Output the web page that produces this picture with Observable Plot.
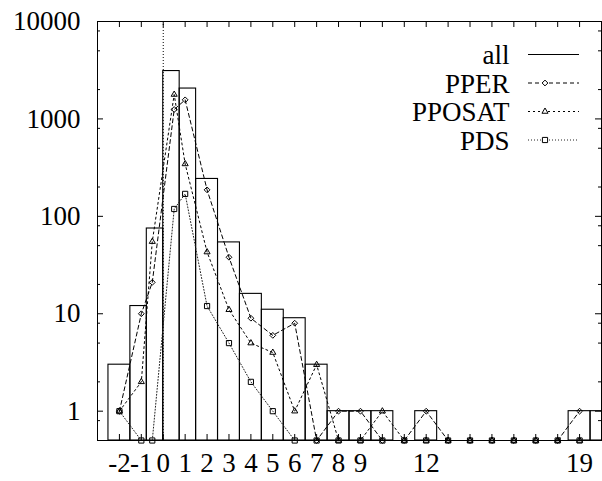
<!DOCTYPE html>
<html><head><meta charset="utf-8">
<script src="https://cdn.jsdelivr.net/npm/d3@7"></script>
<script src="https://cdn.jsdelivr.net/npm/@observablehq/plot@0.6"></script>
<style>body{margin:0;background:#fff} svg{display:block} svg text{font-family:"Liberation Serif","Times New Roman",Tinos,serif !important;}</style>
</head><body><div id="chart"></div>
<script>
// ---- data ----
const xValues      = [-2,-1,-0.5,0.5,1,2,3,4,5,6,7,8,9,10,11,12,13,14,15,16,17,18,19,20];
const allCounts    = [3,12,75,3100,2050,242,54,16,11,9,3,1,1,1,0,1,0,0,0,0,0,0,1,1];
const pperCounts   = [1,10,21,1250,1570,187,38,9,6,8,0,1,1,0,0,1,0,0,0,0,0,0,1];
const pposatCounts = [1,2,55,1780,345,43,11,5,4,1,3,0,0,1,0,0,0,0,0,0,0,0,0];
const pdsCounts    = [1,0,0,119,170,12,5,2,1,0,0,0,0,0,0,0,0,0,0,0,0,0,0];
const seriesNames  = ["all","PPER","PPOSAT","PDS"];
const xTickLabels  = [-2,-1,0,1,2,3,4,5,6,7,8,9,12,19];
const xTickMarks   = [-2,-1,0,1,2,3,4,5,6,7,8,9,10,11,12,13,14,15,16,17,18,19];
const yTickLabels  = [1,10,100,1000,10000];
const yMinorTicks  = [0.8,2,5,8,20,50,80,200,500,800,2000,5000,8000];
const xDomain = [-3, 20];
const yDomain = [0.5, 10000];

// ---- layout ----
const W = 602, H = 481;
const mL = 97, mR = 1, mT = 21, mB = 41;
const frameW = W - mL - mR, frameH = H - mT - mB;
const font = '"Liberation Serif","Times New Roman",Tinos,serif';

// boxes (gnuplot "boxes": each box reaches halfway to its neighbours)
const boxes = xValues.map((x, i) => {
  const prev = i > 0 ? xValues[i-1] : x - (xValues[i+1] - x);
  const next = i < xValues.length - 1 ? xValues[i+1] : x + (x - xValues[i-1]);
  return {x1: (prev + x) / 2, x2: (x + next) / 2, count: allCounts[i]};
}).filter(d => d.count > 0);

const toSeries = arr => arr.map((v, i) => ({x: xValues[i], y: v > 0 ? v : yDomain[0]}));
const pper = toSeries(pperCounts), pposat = toSeries(pposatCounts), pds = toSeries(pdsCounts);

const styles = {
  PPER:   {dash: "4,3", symbol: "diamond2", r: 2.6},
  PPOSAT: {dash: "2,3", symbol: "triangle2", r: 2.9},
  PDS:    {dash: "1,2", symbol: "square2", r: 3.3}
};

const plot = Plot.plot({
  width: W, height: H,
  marginLeft: mL, marginRight: mR, marginTop: mT, marginBottom: mB,
  style: {fontFamily: font, fontSize: "27px", color: "black", background: "white"},
  x: {domain: xDomain, label: null},
  y: {type: "log", domain: yDomain, label: null},
  marks: [
    Plot.ruleX([0], {stroke: "black", strokeDasharray: "1,2", strokeWidth: 1}),
    Plot.rect(boxes, {x1: "x1", x2: "x2", y1: () => yDomain[0], y2: "count", stroke: "black", fill: "none", strokeWidth: 1.1, clip: true}),
    Plot.line(pper,   {x: "x", y: "y", stroke: "black", strokeWidth: 1, strokeDasharray: styles.PPER.dash}),
    Plot.line(pposat, {x: "x", y: "y", stroke: "black", strokeWidth: 1, strokeDasharray: styles.PPOSAT.dash}),
    Plot.line(pds,    {x: "x", y: "y", stroke: "#222", strokeWidth: 1, strokeDasharray: styles.PDS.dash}),
    Plot.dot(pper,   {x: "x", y: "y", symbol: styles.PPER.symbol, r: styles.PPER.r, stroke: "black", fill: "none", strokeWidth: 1}),
    Plot.dot(pposat, {x: "x", y: "y", symbol: styles.PPOSAT.symbol, r: styles.PPOSAT.r, stroke: "black", fill: "none", strokeWidth: 1}),
    Plot.dot(pds,    {x: "x", y: "y", symbol: styles.PDS.symbol, r: styles.PDS.r, stroke: "black", fill: "none", strokeWidth: 1}),
    // inward ticks on all four sides
    Plot.tickY(yTickLabels, {y: d => d, insetRight: frameW - 6, stroke: "black"}),
    Plot.tickY(yTickLabels, {y: d => d, insetLeft: frameW - 6, stroke: "black"}),
    Plot.tickY(yMinorTicks, {y: d => d, insetRight: frameW - 3, stroke: "black"}),
    Plot.tickY(yMinorTicks, {y: d => d, insetLeft: frameW - 3, stroke: "black"}),
    Plot.tickX(xTickMarks, {x: d => d, insetBottom: frameH - 6, stroke: "black"}),
    Plot.tickX(xTickMarks, {x: d => d, insetTop: frameH - 6, stroke: "black"}),
    Plot.frame({stroke: "black", strokeWidth: 1}),
    Plot.axisY(yTickLabels, {tickSize: 0, tickPadding: 17, tickFormat: d => String(d), label: null}),
    Plot.axisX(xTickLabels, {tickSize: 0, tickPadding: 12, tickFormat: d => String(d), label: null})
  ]
});
document.getElementById("chart").appendChild(plot);

// ---- legend (top right, gnuplot style) ----
const svg = d3.select(plot);
const lg = svg.append("g").style("font-family", font).style("font-size", "27px");
const legendTextRight = 509.5, sampleX1 = 528, sampleX2 = 579, sampleMark = 545;
const legendTop = 54.5, legendStep = 28.5;
const symbolMap = {diamond2: d3.symbolDiamond2, triangle2: d3.symbolTriangle2, square2: d3.symbolSquare2};
seriesNames.forEach((name, i) => {
  const cy = legendTop + i * legendStep;
  lg.append("text").attr("x", legendTextRight).attr("y", cy + 9.5)
    .attr("text-anchor", "end").attr("fill", "black").text(name);
  const st = styles[name];
  lg.append("line").attr("x1", sampleX1).attr("x2", sampleX2).attr("y1", cy).attr("y2", cy)
    .attr("stroke", name === "PDS" ? "#222" : "black").attr("stroke-width", st ? 1 : 1.1)
    .attr("stroke-dasharray", st ? st.dash : null);
  if (st) {
    lg.append("path").attr("transform", `translate(${sampleMark},${cy})`)
      .attr("d", d3.symbol(symbolMap[st.symbol], Math.PI * st.r * st.r)())
      .attr("fill", "white").attr("stroke", "black").attr("stroke-width", 1);
  }
});
</script>
</body></html>
